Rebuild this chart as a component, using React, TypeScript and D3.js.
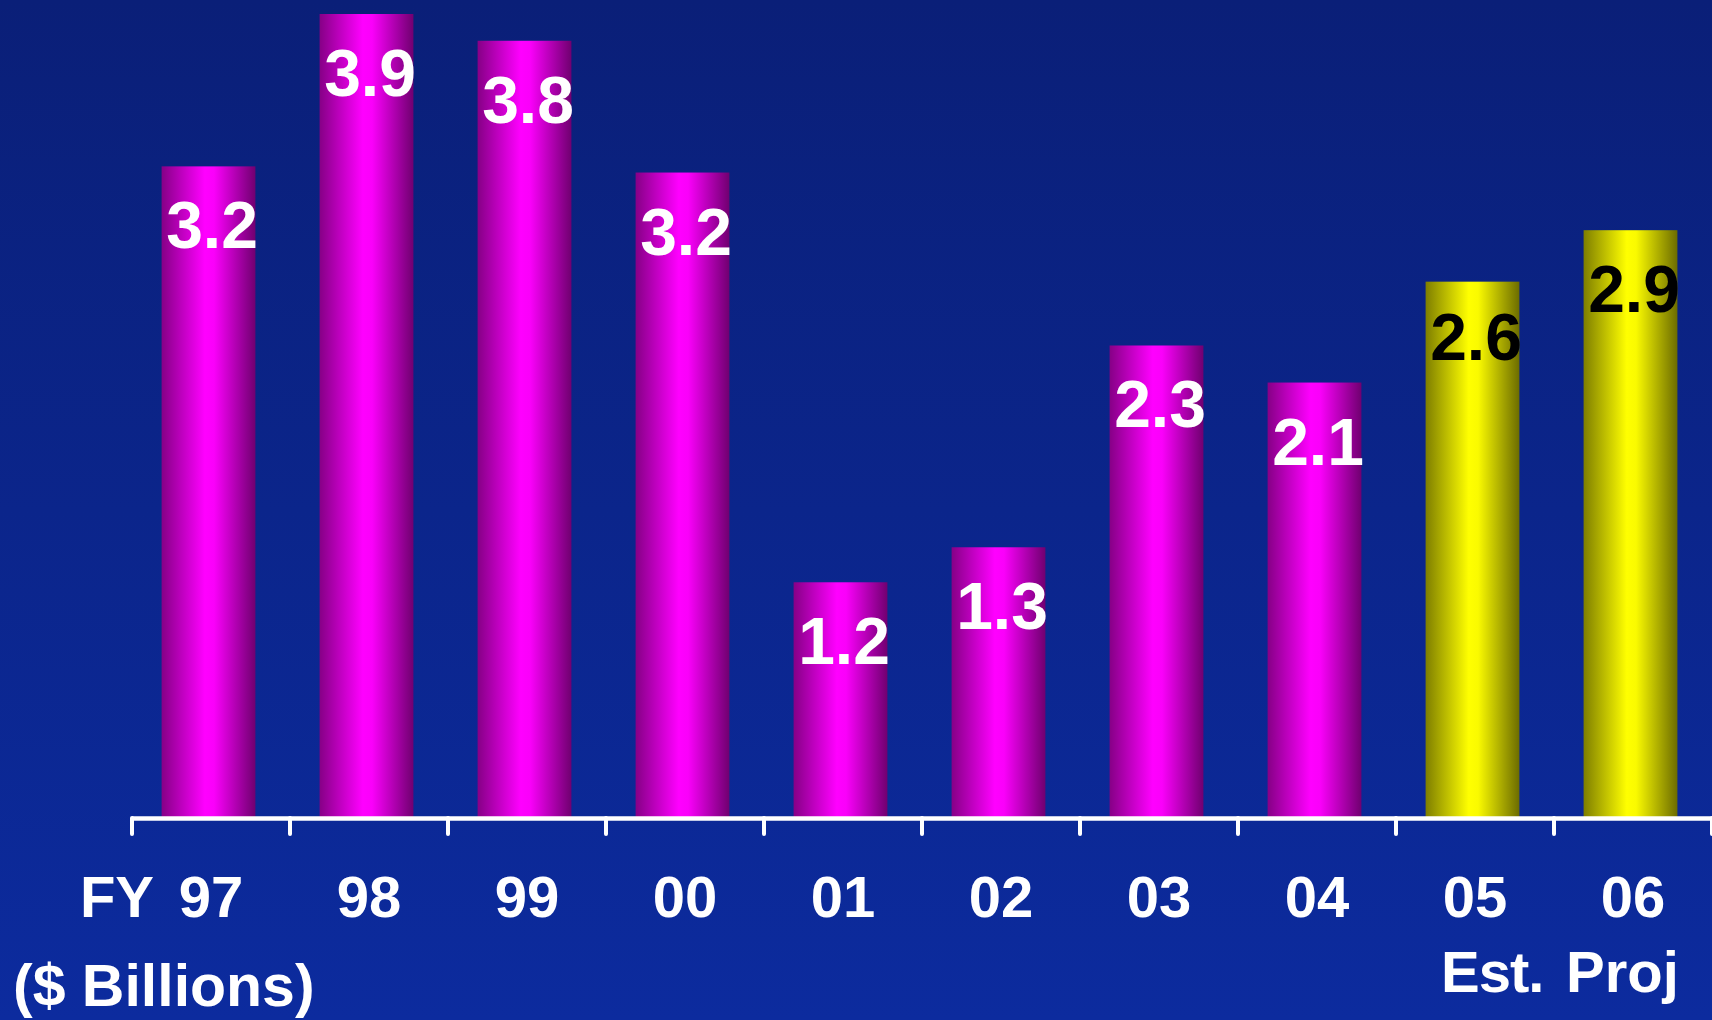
import React from "react";
import * as d3 from "d3";

const years = ["97", "98", "99", "00", "01", "02", "03", "04", "05", "06"];
const values = [3.16, 3.9, 3.77, 3.13, 1.14, 1.31, 2.29, 2.11, 2.6, 2.85];
const labels = ["3.2", "3.9", "3.8", "3.2", "1.2", "1.3", "2.3", "2.1", "2.6", "2.9"];
const kinds = ["actual", "actual", "actual", "actual", "actual", "actual", "actual", "actual", "est", "proj"];
const subLabels = ["Est.", "Proj"];

const W = 1712;
const H = 1020;
const FONT = "'Liberation Sans', Arial, Helvetica, sans-serif";

export default function App() {
  const x = d3.scaleBand<string>().domain(years).range([132, 1712]).paddingInner(0.4).paddingOuter(0.2);
  const y = d3.scaleLinear().domain([0, 3.9]).range([817, 14]);
  const step = x.step();
  const bandStart = (i: number) => 132 + i * step;
  const tickXs = d3.range(years.length + 1).map((i) => bandStart(i));
  const center = (i: number) => bandStart(i) + step / 2;

  return (
    <div style={{ position: "fixed", left: 0, top: 0, width: W, height: H }}>
      <svg width={W} height={H} style={{ display: "block" }}>
        <defs>
          <linearGradient id="bg" x1="0" y1="0" x2="0" y2="1">
            <stop offset="0%" stopColor="#0a1f78" />
            <stop offset="100%" stopColor="#0c2b9e" />
          </linearGradient>
          <linearGradient id="mag" x1="0" y1="0" x2="1" y2="0">
            <stop offset="0%" stopColor="#860086" />
            <stop offset="46%" stopColor="#ff00ff" />
            <stop offset="56%" stopColor="#fa00fa" />
            <stop offset="100%" stopColor="#700070" />
          </linearGradient>
          <linearGradient id="yel" x1="0" y1="0" x2="1" y2="0">
            <stop offset="0%" stopColor="#7e7e00" />
            <stop offset="46%" stopColor="#ffff00" />
            <stop offset="56%" stopColor="#fafa00" />
            <stop offset="100%" stopColor="#6c6c00" />
          </linearGradient>
        </defs>
        <rect x={0} y={0} width={W} height={H} fill="url(#bg)" />
        {years.map((d, i) => (
          <rect
            key={d}
            x={(x(d) as number) - 2}
            y={y(values[i])}
            width={x.bandwidth() - 1}
            height={y(0) - y(values[i])}
            fill={kinds[i] === "actual" ? "url(#mag)" : "url(#yel)"}
          />
        ))}
        {years.map((d, i) => (
          <text
            key={"v" + d}
            x={center(i) + 1}
            y={y(values[i]) + (kinds[i] === "est" ? 78 : 82)}
            textAnchor="middle"
            fontFamily={FONT}
            fontWeight="bold"
            fontSize={66}
            fill={kinds[i] === "actual" ? "#ffffff" : "#000000"}
          >
            {labels[i]}
          </text>
        ))}
        <line x1={132} x2={1712} y1={818.5} y2={818.5} stroke="#ffffff" strokeWidth={4.5} />
        {tickXs.map((t, i) => (
          <line key={"t" + i} x1={t} x2={t} y1={818} y2={834} stroke="#ffffff" strokeWidth={4} strokeLinecap="round" />
        ))}
        {years.map((d, i) => (
          <text
            key={"x" + d}
            x={center(i)}
            y={917}
            textAnchor="middle"
            fontFamily={FONT}
            fontWeight="bold"
            fontSize={58}
            fill="#ffffff"
          >
            {d}
          </text>
        ))}
        <text x={154} y={917} textAnchor="end" fontFamily={FONT} fontWeight="bold" fontSize={58} fill="#ffffff">
          FY
        </text>
        <text x={13} y={1006} fontFamily={FONT} fontWeight="bold" fontSize={59} fill="#ffffff">
          ($ Billions)
        </text>
        <text x={1441} y={992} fontFamily={FONT} fontWeight="bold" fontSize={58} fill="#ffffff" letterSpacing={-1}>
          {subLabels[0]}
        </text>
        <text x={1566} y={992} fontFamily={FONT} fontWeight="bold" fontSize={58} fill="#ffffff">
          {subLabels[1]}
        </text>
      </svg>
    </div>
  );
}
